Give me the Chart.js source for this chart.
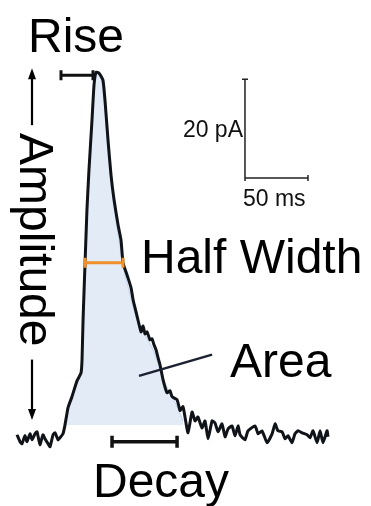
<!DOCTYPE html>
<html>
<head>
<meta charset="utf-8">
<script src="https://cdn.jsdelivr.net/npm/chart.js@4/dist/chart.umd.min.js"></script>
<style>
  html, body { margin: 0; padding: 0; background: #fff; }
  #wrap { width: 371px; height: 506px; position: relative; }
</style>
</head>
<body>
<div id="wrap"><canvas id="traceChart"></canvas></div>
<script>
// --- trace (time in ms from event onset, current in pA, inward shown upward) ---
const tMs = [
  -36.5, -34.1, -32.5, -30.2, -28.6, -26.2, -24.6, -22.2, -20.6, -18.3, -15.9, -14.3, -11.9, -10.3, -7.9, -6.3, -4.0, -2.4, 0,
  1.6, 4.0, 7.1, 11.1, 14.3, 15.1, 15.9, 17.5, 19.0, 20.6, 23.0, 24.6, 26.2, 28.6, 31.7, 33.3, 35.7, 38.1, 40.5, 43.7, 46.0,
  47.6, 50.0, 51.6, 54.0, 55.6, 57.9, 59.5, 61.9, 63.5, 65.1, 66.7, 69.0, 70.6, 72.2, 73.8, 75.4, 77.0, 79.4, 82.5, 84.9,
  86.5, 90.5, 92.9, 95.2, 96.8, 99.2, 102.4, 104.8, 107.1, 110.3, 112.7, 115.1, 118.3, 120.6, 123.0, 126.2, 128.6, 131.0,
  134.1, 136.5, 138.9, 140.5, 144.4, 146.8, 152.4, 154.8, 157.9, 161.9, 165.9, 168.3, 170.6, 173.8, 176.2, 178.6, 181.7,
  184.1, 186.5, 189.7, 193.7, 196.0, 198.4, 201.6, 204.0, 206.3, 209.5, 210.3
];
const currentPA = [
  0.4, -1.0, -1.4, 0.2, -1.0, 0.6, -0.6, 0.6, 1.0, -1.6, 0.4, -0.4, -1.4, -2.0, 0.4, 0.8, -0.6, -0.2, 0.6,
  2.4, 5.9, 8.1, 11.3, 12.9, 15.6, 23.6, 35.2, 45.9, 53.9, 64.0, 71.1, 73.7, 73.5, 72.1, 68.1, 60.0, 52.9, 47.9, 42.8, 39.8,
  35.2, 33.3, 32.1, 30.1, 27.7, 25.3, 23.6, 21.2, 22.4, 20.8, 21.2, 19.6, 19.8, 18.6, 17.6, 16.0, 14.5, 11.5, 8.9, 9.3,
  8.1, 7.5, 5.3, 6.1, 4.0, 0.8, 5.0, 3.2, 4.0, 1.8, 3.2, -0.4, 3.2, 2.8, 1.0, 2.6, 0.0, 1.6,
  2.2, 0.2, 2.2, 0.4, -0.6, 1.2, 2.2, 0.6, 1.2, -1.2, 0.6, 2.6, 1.2, 1.0, -0.4, 0.2, -1.2,
  0.6, 1.2, 0.8, 0.4, -0.2, 1.2, -1.2, 1.2, -1.2, 1.2, 0
];

// --- smoothed envelope used for the shaded "Area" ---
const envT  = [0.8, 4.0, 8.7, 13.5, 15.9, 17.5, 19.8, 22.2, 24.6, 27.0, 30.2, 32.5, 35.7, 39.7, 44.4, 48.4, 53.2, 58.7, 65.1, 71.4, 77.0, 83.3, 89.7, 95.2];
const envPA = [2.4, 5.5, 9.5, 12.3, 19.6, 31.7, 47.9, 60.0, 70.1, 73.7, 72.5, 68.1, 58.0, 47.9, 39.8, 33.7, 28.7, 23.6, 20.6, 17.6, 13.5, 9.5, 6.5, 3.2];
const areaFloorPA = 2.4;

// --- measurement markers (ms / pA) ---
const riseSpan = [-1.6, 23.8];      const riseLevel = 73.1;
const halfWidthSpan = [17.5, 47.6]; const halfLevel = 35.2;
const decaySpan = [38.9, 90.5];     const decayLevel = -1.0;
const ampArrowT = -24.6;
const ampUp = [63.0, 74.5];
const ampDown = [15.6, 3.4];
const areaPointer = [[60.3, 12.3], [118.3, 16.6]];
const scaleBarOrigin = [144.4, 52.3];
const scaleBarMs = 50;
const scaleBarPA = 20;

// label text and anchor (ms, pA)
const labels = [
  { text: 'Rise', t: -27.8, pA: 77.8 },
  { text: 'Half Width', t: 61.9, pA: 33.1 },
  { text: 'Area', t: 132.5, pA: 12.1 },
  { text: 'Decay', t: 23.8, pA: -12.2 }
];
const ampLabel = { text: 'Amplitude', t: -34.1, pA: 61.4 };

const tracePts = tMs.map((t, i) => ({ x: t, y: currentPA[i] }));
const envPts = envT.map((t, i) => ({ x: t, y: envPA[i] }));

const FONT = '"Liberation Sans", Arial, sans-serif';

const markers = {
  id: 'markers',
  afterDatasetsDraw(chart) {
    const ctx = chart.ctx;
    const xs = chart.scales.x, ys = chart.scales.y;
    const X = v => xs.getPixelForValue(v);
    const Y = v => ys.getPixelForValue(v);

    function hBar(span, level, color, w, cap) {
      const x1 = X(span[0]), x2 = X(span[1]), y = Y(level);
      ctx.save();
      ctx.strokeStyle = color; ctx.lineWidth = w; ctx.lineCap = 'butt';
      ctx.beginPath();
      ctx.moveTo(x1, y); ctx.lineTo(x2, y);
      ctx.moveTo(x1, y - cap); ctx.lineTo(x1, y + cap);
      ctx.moveTo(x2, y - cap); ctx.lineTo(x2, y + cap);
      ctx.stroke();
      ctx.restore();
    }
    function arrow(t, from, to) {
      const x = X(t), y1 = Y(from), y2 = Y(to);
      const dir = y2 < y1 ? -1 : 1;
      ctx.save();
      ctx.strokeStyle = '#000'; ctx.fillStyle = '#000'; ctx.lineWidth = 2.2;
      ctx.beginPath();
      ctx.moveTo(x, y1); ctx.lineTo(x, y2 - dir * 8);
      ctx.stroke();
      ctx.beginPath();
      ctx.moveTo(x, y2);
      ctx.lineTo(x - 4, y2 - dir * 11);
      ctx.lineTo(x + 4, y2 - dir * 11);
      ctx.closePath();
      ctx.fill();
      ctx.restore();
    }

    hBar(riseSpan, riseLevel, '#111', 3, 5);
    hBar(halfWidthSpan, halfLevel, '#f0902a', 3, 5);
    hBar(decaySpan, decayLevel, '#111', 3.5, 6);

    arrow(ampArrowT, ampUp[0], ampUp[1]);
    arrow(ampArrowT, ampDown[0], ampDown[1]);

    // area pointer
    ctx.save();
    ctx.strokeStyle = '#1b2130'; ctx.lineWidth = 2.5;
    ctx.beginPath();
    ctx.moveTo(X(areaPointer[0][0]), Y(areaPointer[0][1]));
    ctx.lineTo(X(areaPointer[1][0]), Y(areaPointer[1][1]));
    ctx.stroke();
    ctx.restore();

    // scale bar
    const ox = X(scaleBarOrigin[0]), oy = Y(scaleBarOrigin[1]);
    const ex = X(scaleBarOrigin[0] + scaleBarMs), ty = Y(scaleBarOrigin[1] + scaleBarPA);
    ctx.save();
    ctx.strokeStyle = '#222'; ctx.lineWidth = 1.5;
    ctx.beginPath();
    ctx.moveTo(ox, ty); ctx.lineTo(ox, oy); ctx.lineTo(ex, oy);
    ctx.moveTo(ox - 3, ty); ctx.lineTo(ox + 3, ty);
    ctx.moveTo(ex, oy - 3); ctx.lineTo(ex, oy + 3);
    ctx.moveTo(ox, oy - 3); ctx.lineTo(ox, oy + 3);
    ctx.stroke();
    ctx.fillStyle = '#111';
    ctx.font = '23px ' + FONT;
    ctx.textBaseline = 'alphabetic';
    ctx.textAlign = 'right';
    ctx.fillText(scaleBarPA + ' pA', ox - 2, (oy + ty) / 2 + 8);
    ctx.textAlign = 'left';
    ctx.fillText(scaleBarMs + ' ms', ox - 2, oy + 28);
    ctx.restore();

    // big labels
    ctx.save();
    ctx.fillStyle = '#000';
    ctx.font = '48px ' + FONT;
    ctx.textAlign = 'left';
    ctx.textBaseline = 'alphabetic';
    labels.forEach(l => ctx.fillText(l.text, X(l.t), Y(l.pA)));
    ctx.translate(X(ampLabel.t), Y(ampLabel.pA));
    ctx.rotate(Math.PI / 2);
    ctx.fillText(ampLabel.text, 0, 0);
    ctx.restore();
  }
};

new Chart(document.getElementById('traceChart'), {
  type: 'line',
  data: {
    datasets: [
      {
        label: 'Current',
        data: tracePts,
        borderColor: '#101318',
        borderWidth: 3,
        pointRadius: 0,
        tension: 0.15,
        fill: false,
        order: 0
      },
      {
        label: 'Area',
        data: envPts,
        borderColor: '#c7d7ee',
        borderWidth: 1.2,
        backgroundColor: '#e3ebf7',
        pointRadius: 0,
        tension: 0.3,
        fill: { value: areaFloorPA },
        order: 1
      }
    ]
  },
  options: {
    responsive: true,
    maintainAspectRatio: false,
    animation: false,
    layout: { padding: 0 },
    plugins: { legend: { display: false }, tooltip: { enabled: false } },
    scales: {
      x: { type: 'linear', min: -50, max: 244.4, display: false },
      y: { type: 'linear', min: -14, max: 88.3, display: false }
    }
  },
  plugins: [markers]
});
</script>
</body>
</html>
